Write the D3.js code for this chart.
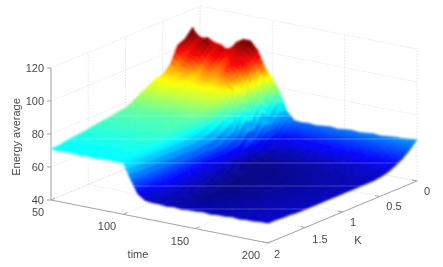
<!DOCTYPE html>
<html>
<head>
<meta charset="utf-8">
<title>Energy average</title>
<style>
html, body { margin: 0; padding: 0; background: #fff; overflow: hidden; }
text { font-family: "Liberation Sans", Arial, sans-serif; fill: #4a4a4a; }
</style>
<script src="https://cdnjs.cloudflare.com/ajax/libs/d3/7.8.5/d3.min.js"></script>
</head>
<body>
<svg id="chart" width="443" height="267"></svg>
<script>
var timeValues = [50,55,60,65,70,75,80,85,90,95,100,105,110,115,120,125,130,135,140,145,150,155,160,165,170,175,180,185,190,195,200];
var kValues = [0,0.1,0.2,0.3,0.4,0.5,0.6,0.7,0.8,0.9,1,1.1,1.2,1.3,1.4,1.5,1.6,1.7,1.8,1.9,2];
var timeTicks = [50,100,150,200];
var kTicks = [0,0.5,1,1.5,2];
var energyTicks = [40,60,80,100,120];

// one row per K, one column per time
var energy = [
[99,102,99.5,99,95.6,102.4,105,105,100,89,85,78,67,62,61.5,62,61.5,62,62.5,62,62.5,63,62.5,63,63.5,63,63.5,64,64,64.5,65],
[109,101,104,100,101,97,104,106,107,102,92,84,68,59,57.5,58,57.5,58,58,58.5,58,58.5,58.5,59,59,59.5,59.5,60,60,60.5,60.5],
[104,97,103,105,98,103,96,102,99,96,88,76,62,55,54.5,54,54.5,54,54.5,54.5,55,55,55,55.5,55.5,56,56,56,56.5,56.5,57],
[102,95,99,101,94,99,93,97,100,100,94,84,64,53,51.5,51.5,51,51.5,51.5,52,52,52,52.5,52.5,53,53,53.5,53.5,54,54,54.5],
[92,91,96,93,89,94,91,93,97,94,86,72,58,50.5,49.5,49.5,49.5,49.5,50,50,50,50.5,50.5,51,51,51,51.5,51.5,52,52,52.5],
[88,90,87,91,88,89,92,88,90,92,90,76,56,49.5,48.5,48.5,48.5,48.5,49,49,49,49.5,49.5,50,50,50.5,50.5,51,51,51,51.5],
[87,86,88,87,85,87,85.5,86,85,85,79,65,53,49,48,48,48,48,48.5,48.5,48.5,49,49,49.5,49.5,50,50,50.5,50.5,51,51],
[84.5,84,85,84,84,84.5,83,84,83,84,77,63,53,49,47.5,47.5,47.5,47.5,48,48,48.5,48.5,49,49,49.5,49.5,50,50,50.5,50.5,51],
[82,81.5,82,81.5,81,81.5,81,81,80.5,80,74,60,53,49.5,48,47.5,47.5,47.5,47.5,48,48,48.5,48.5,49,49,49.5,49.5,50,50,50.5,51],
[79,79,78.5,79,78.5,78.5,78,78.5,78,78,72,59,54,50,48.5,47.5,47.5,47.5,47.5,48,48,48.5,48.5,49,49,49.5,49.5,50,50,50.5,51],
[77,77,76.5,77,76.5,76.5,76,76.5,76,75.5,70,60,54,50.5,49,48,47.5,47.5,47.5,48,48,48.5,48.5,49,49,49.5,49.5,50,50.5,50.5,51],
[76.5,76,76,76.5,76,75.5,75.5,76,75.5,75,69,59,54.5,51,49,48,47.5,47.5,47.5,48,48,48.5,48.5,49,49,49.5,49.5,50,50.5,50.5,51],
[75.5,75.5,75,75.5,75,75,75,75.5,75,74.5,69,60,55,51.5,49.5,48.5,47.5,47.5,47.5,48,48,48.5,48.5,49,49,49.5,50,50,50.5,50.5,51],
[75,75,74.5,75,74.5,74.5,74.5,74.5,74.5,74,69,60,55.5,52,50,48.5,48,47.5,47.5,48,48,48.5,48.5,49,49,49.5,50,50,50.5,50.5,51],
[74.5,74,74,74,74,73.5,74,74,73.5,73.5,69,60,56,52.5,50,49,48,47.5,48,48,48,48.5,49,49,49.5,49.5,50,50,50.5,51,51],
[73.5,73.5,73,73.5,73,73,73,73.5,73,73,69,61,56,53,50.5,49,48,47.5,48,48,48.5,48.5,49,49,49.5,50,50,50.5,50.5,51,51],
[73,72.5,72.5,73,72.5,72,72.5,72.5,72,72,69,61,56.5,53,51,49.5,48.5,48,48,48.5,48.5,49,49,49.5,49.5,50,50,50.5,50.5,51,51],
[72.5,72,72,72,71.5,72,71.5,72,72,71.5,69,61,56.5,53.5,51,50,49,48.5,48.5,49,49,49,49.5,49.5,50,50,50.5,50.5,51,51,51.5],
[72,71.5,71.5,71,71.5,71,71.5,71,71.5,71,70,61,56,53,51,50,49.5,49,49,49.5,49.5,49.5,50,50,50.5,50.5,50.5,51,51,51.5,51.5],
[71,71,70.5,71,71,70.5,71,71,70.5,71,70,61,55,52,51,50.5,50,50,49.5,50,50,50.5,50,50.5,50.5,51,50.5,51,51.5,51.5,52],
[71,70.5,71,71,70.5,71,70.5,71,71,71,71,62,54,51,50.5,50.5,50,50.5,50,50.5,50.5,51,50.5,51,51,51.5,51,51.5,51.5,52,52]
];

// faint pale streaks that cross the surface in the picture
var streakRows = [116,139,163,186,209];

var svg = d3.select("#chart");

// oblique projection of the box, corners
var xT = d3.scaleLinear().domain([50,200]).range([0,217]);
var yT = d3.scaleLinear().domain([50,200]).range([0,43]);
var xK = d3.scaleLinear().domain([2,0]).range([0,149]);
var yK = d3.scaleLinear().domain([2,0]).range([0,-62]);
var yZ = d3.scaleLinear().domain([40,120]).range([200,68]);

function px(t,k) { return 51 + xT(t) + xK(k); }
function py(t,k,z) { return yZ(z) + yT(t) + yK(k); }

var jet = d3.scaleLinear()
    .domain([47,55,71,87,98,105])
    .range(["#00007f","#0000ff","#00ffff","#ffff00","#ff0000","#7f0000"])
    .clamp(true);

var defs = svg.append("defs");
defs.append("filter").attr("id","soft").append("feGaussianBlur").attr("stdDeviation",0.5);
defs.append("filter").attr("id","softer").append("feGaussianBlur").attr("stdDeviation",1);

var box = svg.append("g").attr("filter","url(#soft)");

function seg(p, q, cls) {
    var l = box.append("line")
        .attr("x1",p[0]).attr("y1",p[1]).attr("x2",q[0]).attr("y2",q[1]);
    if (cls == "grid") l.attr("stroke","#e0e0e0").attr("stroke-width",0.8).attr("stroke-dasharray","1.5 1.5");
    else l.attr("stroke","#a6a6a6").attr("stroke-width",1);
}
function P(t,k,z) { return [px(t,k), py(t,k,z)]; }

// walls and floor grid
energyTicks.forEach(function(z) {
    seg(P(50,2,z),P(50,0,z),"grid");
    seg(P(50,0,z),P(200,0,z),"grid");
});
timeTicks.forEach(function(t) {
    seg(P(t,0,40),P(t,0,120),"grid");
    seg(P(t,2,40),P(t,0,40),"grid");
});
kTicks.forEach(function(k) {
    seg(P(50,k,40),P(50,k,120),"grid");
    seg(P(50,k,40),P(200,k,40),"grid");
});

// axis lines
seg(P(50,2,40),P(50,2,120));
seg(P(50,2,40),P(200,2,40));
seg(P(200,2,40),P(200,0,40));
energyTicks.forEach(function(z) {
    var p = P(50,2,z);
    seg([p[0]-4,p[1]],p);
});
timeTicks.forEach(function(t) {
    var p = P(t,2,40);
    seg(p,[p[0]+4,p[1]-2]);
});
kTicks.forEach(function(k) {
    var p = P(200,k,40);
    seg(p,[p[0]-5,p[1]-1]);
});

// surface, far cells first, each cell cut up so the colour runs smooth
var steps = 3;
var polys = [];
function hit(u,v) {
    var i = Math.min(Math.floor(u/steps), timeValues.length-2);
    var j = Math.min(Math.floor(v/steps), kValues.length-2);
    var a = u/steps-i, b = v/steps-j;
    var t = timeValues[i]+a*(timeValues[i+1]-timeValues[i]);
    var k = kValues[j]+b*(kValues[j+1]-kValues[j]);
    var z = energy[j][i]*(1-a)*(1-b)+energy[j][i+1]*a*(1-b)+energy[j+1][i]*(1-a)*b+energy[j+1][i+1]*a*b;
    return {x:px(t,k), y:py(t,k,z), z:z};
}
for (var u = 0; u < (timeValues.length-1)*steps; u++) {
    for (var v = 0; v < (kValues.length-1)*steps; v++) {
        var c = [hit(u,v),hit(u+1,v),hit(u+1,v+1),hit(u,v+1)];
        polys.push({pts:c, z:d3.mean(c,function(d){return d.z;})});
    }
}
var line = d3.line().x(function(d){return d.x;}).y(function(d){return d.y;}).curve(d3.curveLinearClosed);
svg.append("g").attr("filter","url(#softer)")
    .selectAll("path")
    .data(polys)
    .enter().append("path")
    .attr("d",function(d){return line(d.pts);})
    .attr("fill",function(d){return jet(d.z);})
    .attr("stroke",function(d){return jet(d.z);})
    .attr("stroke-width",0.5);

// streaks only show on top of the surface, so clip them to its cells
var clip = defs.append("clipPath").attr("id","surfClip");
clip.selectAll("path").data(polys).enter().append("path")
    .attr("d",function(d){return line(d.pts);});
svg.append("g").attr("clip-path","url(#surfClip)")
    .selectAll("line").data(streakRows).enter().append("line")
    .attr("x1",0).attr("x2",443)
    .attr("y1",function(d){return d;}).attr("y2",function(d){return d;})
    .attr("stroke","#fff").attr("stroke-opacity",0.28).attr("stroke-width",1);

// labels
var labels = svg.append("g").attr("filter","url(#soft)").attr("font-size",11);
labels.selectAll(".z").data(energyTicks).enter().append("text")
    .attr("x",44).attr("y",function(d){return yZ(d)+4;})
    .attr("text-anchor","end").text(function(d){return d;});

var timeLabelPos = {50:[38,216], 100:[107,230], 150:[180,245], 200:[251,259]};
labels.selectAll(".t").data(timeTicks).enter().append("text")
    .attr("x",function(d){return timeLabelPos[d][0];})
    .attr("y",function(d){return timeLabelPos[d][1];})
    .attr("text-anchor","middle").text(function(d){return d;});

var kLabelPos = {0:[427,195], 0.5:[394,210], 1:[353,226], 1.5:[320,243], 2:[277,258]};
labels.selectAll(".k").data(kTicks).enter().append("text")
    .attr("x",function(d){return kLabelPos[d][0];})
    .attr("y",function(d){return kLabelPos[d][1];})
    .attr("text-anchor","middle").text(function(d){return d;});

labels.append("text").attr("x",138).attr("y",258).attr("text-anchor","middle").text("time");
labels.append("text").attr("x",358).attr("y",244).attr("text-anchor","middle").text("K");
labels.append("text").attr("transform","translate(20,137) rotate(-90)")
    .attr("text-anchor","middle").text("Energy average");
</script>
</body>
</html>
